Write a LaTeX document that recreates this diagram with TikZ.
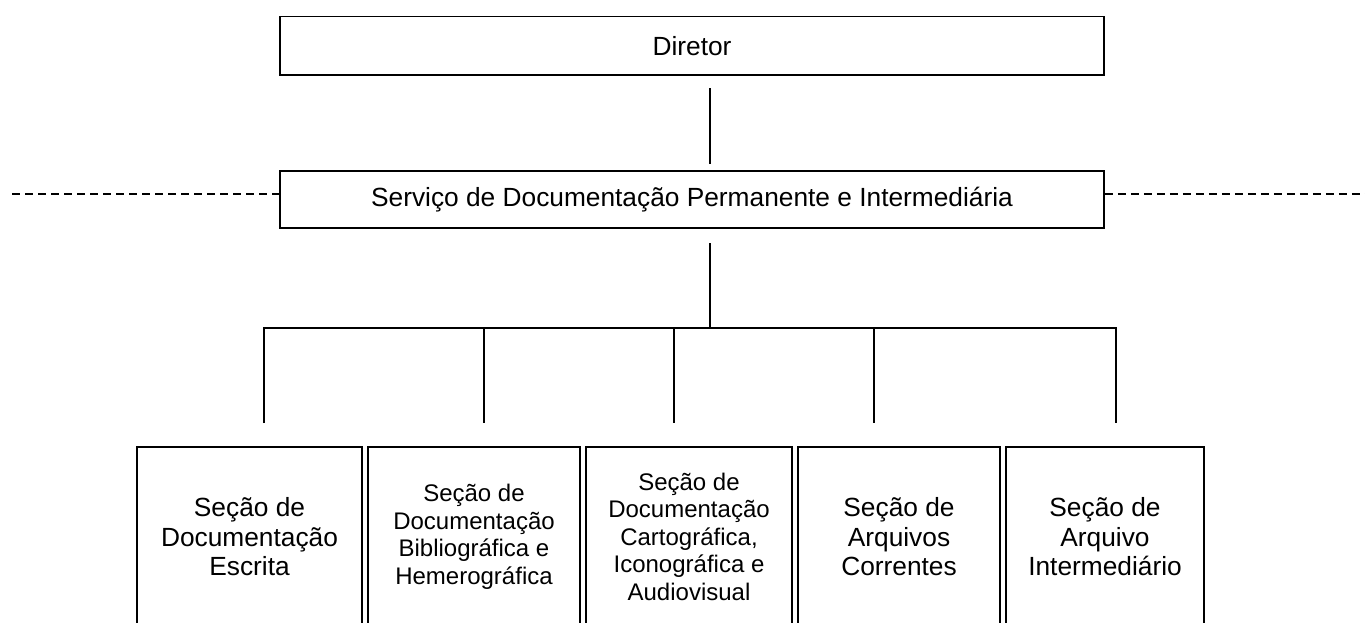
\documentclass[tikz,border=0pt]{standalone}
\usepackage{fontspec}
\setmainfont{Liberation Sans}
\begin{document}
\begin{tikzpicture}[x=1pt,y=-1pt,line width=1.6pt,
  box/.style={draw,line width=1.6pt,inner sep=0pt,align=center,font=\fontsize{26.3}{29.3}\selectfont},
  sec/.style={box,anchor=north,minimum height=180pt},
  small/.style={font=\fontsize{24}{27.6}\selectfont},
  conn/.style={line width=1.6pt},
  dashline/.style={line width=1.4pt,dash pattern=on 8pt off 5pt}]
\useasboundingbox (0,0) rectangle (1365,622);
\clip (0,0) rectangle (1365,622);
% top boxes
\node[box,minimum width=824pt,minimum height=58.5pt] (dir) at (692,45.75) {Diretor};
\node[box,minimum width=824pt,minimum height=57pt] (serv) at (692,199.5) {Servi\c{c}o de Documenta\c{c}\~ao Permanente e Intermedi\'aria};
% bottom boxes
\node[sec,minimum width=225pt] (s1) at (249.5,446) {Se\c{c}\~ao de\\Documenta\c{c}\~ao\\Escrita};
\node[sec,small,minimum width=212pt] (s2) at (474,446) {Se\c{c}\~ao de\\Documenta\c{c}\~ao\\Bibliogr\'afica e\\Hemerogr\'afica};
\node[sec,small,minimum width=206pt] (s3) at (689,446) {Se\c{c}\~ao de\\Documenta\c{c}\~ao\\Cartogr\'afica,\\Iconogr\'afica e\\Audiovisual};
\node[sec,minimum width=202pt] (s4) at (899,446) {Se\c{c}\~ao de\\Arquivos\\Correntes};
\node[sec,minimum width=198pt] (s5) at (1105,446) {Se\c{c}\~ao de\\Arquivo\\Intermedi\'ario};
% connector coordinates
\coordinate (d1) at (710,88);
\coordinate (d2) at (710,164);
\coordinate (m1) at (710,243);
\coordinate (m2) at (710,328);
\coordinate (bl) at (264,328);
\coordinate (br) at (1116,328);
\coordinate (e1) at (264,423);
\coordinate (t2) at (484,328);
\coordinate (e2) at (484,423);
\coordinate (t3) at (674,328);
\coordinate (e3) at (674,423);
\coordinate (t4) at (874,328);
\coordinate (e4) at (874,423);
\coordinate (e5) at (1116,423);
\coordinate (dl) at (12,194);
\coordinate (dr) at (1365,194);
% connectors
\draw[conn] (d1) -- (d2);
\draw[conn] (m1) -- (m2);
\draw[conn] (e1) -- (bl) -- (br) -- (e5);
\draw[conn] (t2) -- (e2);
\draw[conn] (t3) -- (e3);
\draw[conn] (t4) -- (e4);
\draw[dashline] (dl) -- (dl -| serv.west);
\draw[dashline] (serv.east |- dr) -- (dr);
\end{tikzpicture}
\end{document}
